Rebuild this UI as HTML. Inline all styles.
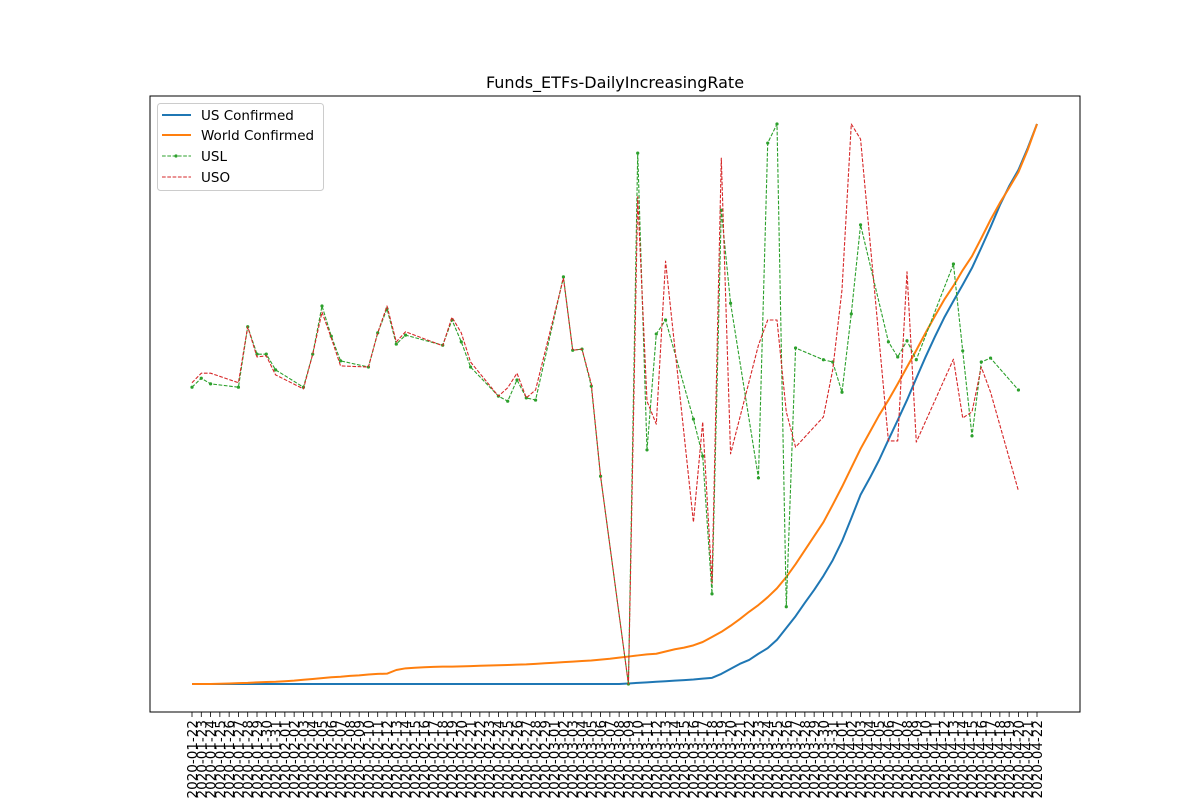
<!DOCTYPE html>
<html><head><meta charset="utf-8"><style>
html,body{margin:0;padding:0;background:#fff;}
svg{display:block;font-family:"DejaVu Sans","Liberation Sans",sans-serif;}
</style></head><body>
<svg id="chart" width="1200" height="800" xmlns="http://www.w3.org/2000/svg">
<text x="615" y="88" text-anchor="middle" font-size="16">Funds_ETFs-DailyIncreasingRate</text>
<g id="plot"></g>
<rect x="150" y="96" width="930" height="616" fill="none" stroke="#000" stroke-width="1"/>
<g id="xticks"></g>
<g>
<rect x="157.5" y="103.5" width="166" height="87" rx="3" fill="#fff" fill-opacity="0.8" stroke="#ccc"/>
<g><line x1="162" y1="115" x2="191" y2="115" stroke="#1f77b4" stroke-width="2"/><text x="201" y="120" font-size="13.5">US Confirmed</text></g>
<g><line x1="162" y1="135" x2="191" y2="135" stroke="#ff7f0e" stroke-width="2"/><text x="201" y="140" font-size="13.5">World Confirmed</text></g>
<g><line x1="162" y1="156" x2="191" y2="156" stroke="#2ca02c" stroke-width="1.1" stroke-dasharray="3.7,1.6"/><circle cx="176" cy="156" r="1.6" fill="#2ca02c"/><text x="201" y="161" font-size="13.5">USL</text></g>
<g><line x1="162" y1="177" x2="191" y2="177" stroke="#d62728" stroke-width="1.1" stroke-dasharray="3.7,1.6"/><text x="201" y="182" font-size="13.5">USO</text></g>
</g>
</svg>
<script>
const usConfirmed=[0,0,0,0,0,0,0,0,0,0,0,0,0,0,0,0,0,0,0,0,0,0,0,0,0,0,0,0,0,0,0,0,0,0,0,0,0,0,0,0,0,0,0,0,0,0,0,0.1,0.2,0.3,0.4,0.5,0.6,0.7,0.8,0.95,1.1,1.8,2.7,3.6,4.3,5.4,6.4,7.9,10,12.1,14.5,16.8,19.3,22.1,25.5,29.6,33.8,36.8,40,43.6,47.1,50.7,54.6,58.4,62,65.4,68.4,71.3,74.3,77.9,81.6,85.5,88.9,91.8,95.7,100];
const worldConfirmed=[0,0,0,0.05,0.1,0.15,0.2,0.3,0.35,0.4,0.5,0.6,0.75,0.9,1.05,1.2,1.3,1.45,1.55,1.7,1.8,1.85,2.5,2.8,2.9,3.0,3.05,3.1,3.1,3.15,3.2,3.25,3.3,3.35,3.4,3.45,3.5,3.6,3.7,3.8,3.9,4.0,4.1,4.2,4.35,4.5,4.7,4.9,5.1,5.3,5.4,5.8,6.2,6.5,6.9,7.5,8.4,9.3,10.4,11.6,12.9,14.1,15.5,17.1,19.1,21.4,23.9,26.4,28.9,32,35.2,38.6,42,45,48,50.7,53.6,56.6,59.6,62.7,65.7,68.6,71.1,73.9,76.4,79.6,82.9,85.9,88.6,91.4,95.4,100];
const tradingDays=[0,1,2,5,6,7,8,9,12,13,14,15,16,19,20,21,22,23,27,28,29,30,33,34,35,36,37,40,41,42,43,44,47,48,49,50,51,54,55,56,57,58,61,62,63,64,65,68,69,70,71,72,75,76,77,78,82,83,84,85,86,89];
const uslValues=[53.0,54.6,53.6,53.0,63.8,58.9,58.9,56.1,53.0,58.9,67.5,62.1,57.7,56.6,62.7,67.0,60.7,62.3,60.5,65.0,61.1,56.6,51.4,50.5,54.3,51.1,50.7,72.7,59.6,59.8,53.2,37.1,0,94.8,41.8,62.5,65.0,47.3,40.7,16.1,84.6,68.0,36.8,96.6,100,13.8,60.0,57.9,57.5,52.1,66.1,82.0,61.1,58.4,61.3,57.9,75.0,59.5,44.3,57.5,58.2,52.5];
const usoValues=[53.8,55.5,55.5,53.8,63.8,58.4,58.6,55.2,52.7,58.9,66.4,61.8,56.8,56.6,62.7,67.5,61.1,62.9,60.4,65.5,62.7,57.5,51.4,52.9,55.5,51.1,52.5,72.5,59.6,59.8,53.6,37.1,0,87.0,50.5,46.4,75.5,28.9,46.8,18.0,93.9,41.1,60.5,65.0,65.0,48.6,42.3,47.7,56.1,70.4,100,97.3,43.4,43.4,73.6,43.2,58.0,47.5,48.6,56.6,52.1,34.5];
const startDate="2020-01-22";
const dayCount=92;

const NS="http://www.w3.org/2000/svg";
const X0=192,X1=1037,Y0=684,Y1=124;
function xScale(i){return X0+(X1-X0)*i/(dayCount-1);}
function yScale(v){return Y0+(Y1-Y0)*v/100;}
function mk(tag,attrs){const e=document.createElementNS(NS,tag);for(const k in attrs)e.setAttribute(k,attrs[k]);return e;}
const plot=document.getElementById('plot');
function addLine(xs,vs,color,dash,name){
  const pts=vs.map((v,k)=>xScale(xs[k]).toFixed(2)+','+yScale(v).toFixed(2)).join(' ');
  const p=mk('polyline',{points:pts,fill:'none',stroke:color,'stroke-width':dash?1.1:2,'stroke-linejoin':'round'});
  if(dash)p.setAttribute('stroke-dasharray','3.7,1.6');
  
  
  plot.appendChild(p);
}
const allDays=usConfirmed.map((v,i)=>i);
addLine(allDays,usConfirmed,'#1f77b4',false,'us-confirmed-line');
addLine(allDays,worldConfirmed,'#ff7f0e',false,'world-confirmed-line');
addLine(tradingDays,uslValues,'#2ca02c',true,'usl-line');
uslValues.forEach((v,k)=>{
  const c=mk('circle',{cx:xScale(tradingDays[k]),cy:yScale(v),r:1.6,fill:'#2ca02c'});
  
  
  plot.appendChild(c);
});
addLine(tradingDays,usoValues,'#d62728',true,'uso-line');

const xt=document.getElementById('xticks');
const d0=new Date(startDate+"T00:00:00Z");
for(let i=0;i<dayCount;i++){
  const d=new Date(d0.getTime()+i*86400000);
  const lab=d.toISOString().slice(0,10);
  const x=xScale(i);
  const t=mk('line',{x1:x,y1:712,x2:x,y2:717,stroke:'#000','stroke-width':0.8});
  
  
  xt.appendChild(t);
  const tx=mk('text',{x:0,y:0,'font-size':13.5,'text-anchor':'end',transform:`translate(${x+5},720) rotate(-90)`});
  tx.textContent=lab;
  
  
  xt.appendChild(tx);
}
</script>
</body></html>
